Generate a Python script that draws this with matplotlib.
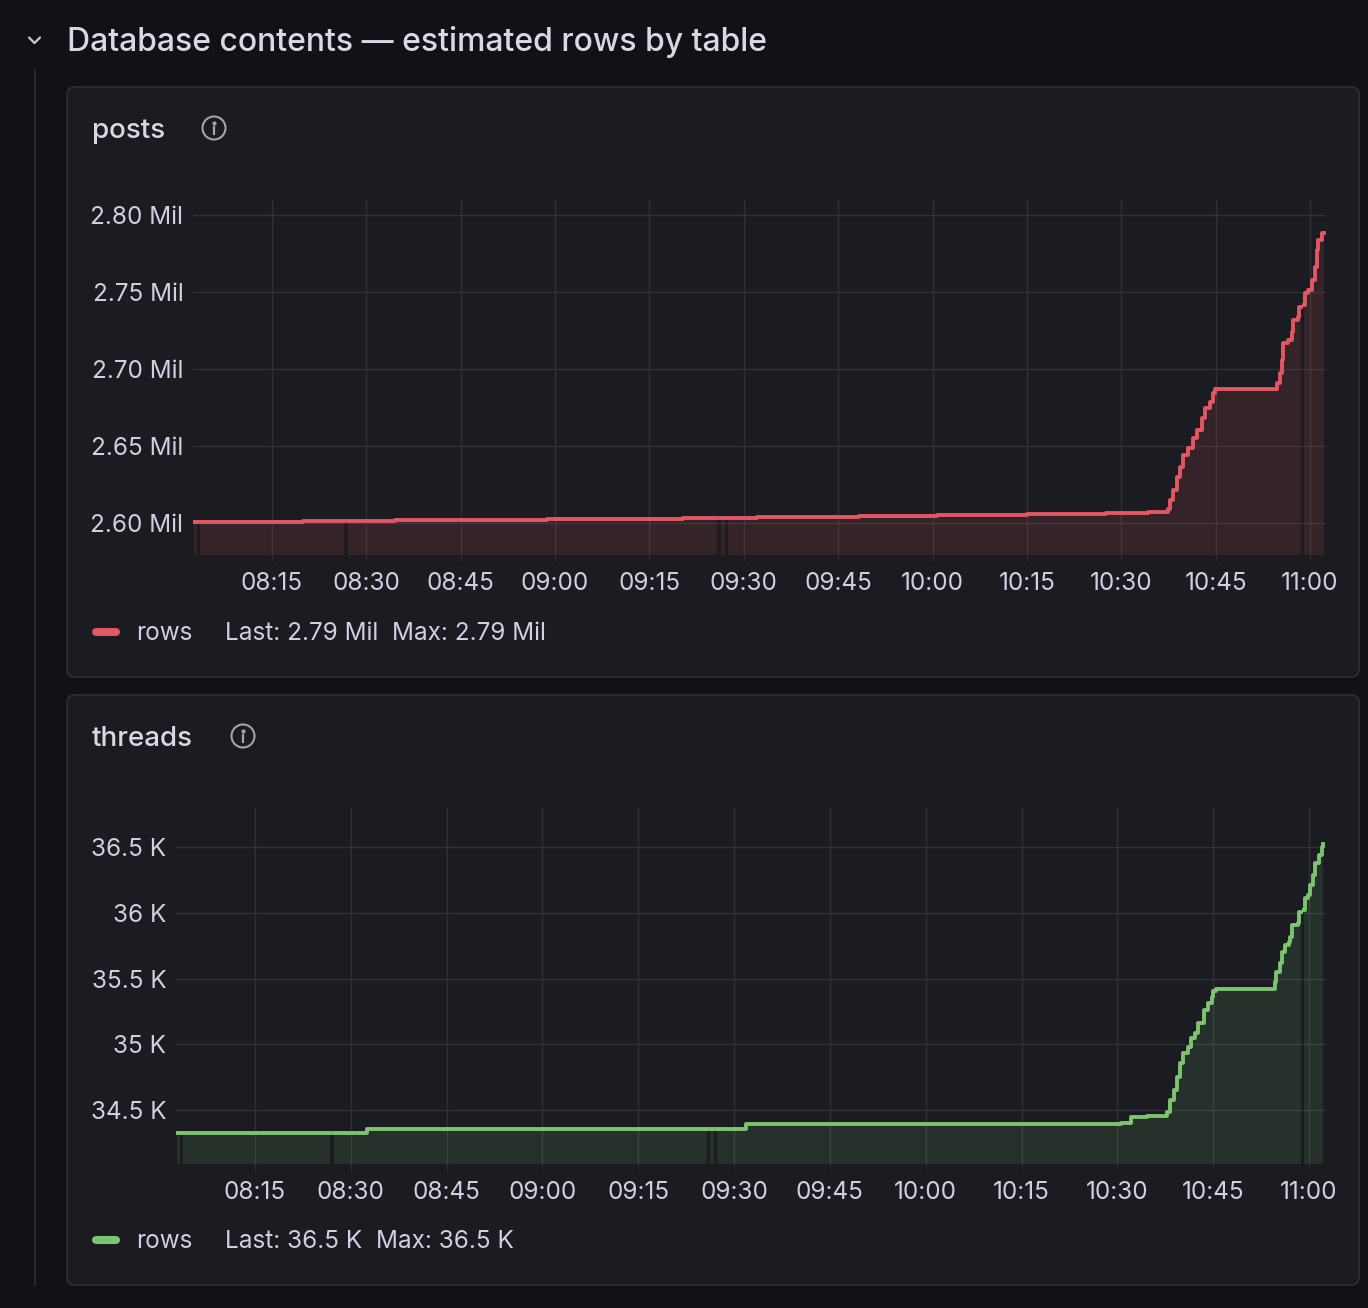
import numpy as np
import matplotlib
matplotlib.use("Agg")
import matplotlib.pyplot as plt
from matplotlib.patches import FancyBboxPatch, Circle
from matplotlib.ticker import MultipleLocator, FuncFormatter

# sample times in minutes after midnight, nan = missing sample (gap)
posts_t = [482.6, 483.05, 483.6, 499.9, 506.5, 507.1, 514.6, 538.7, 560.3,
           565.8, 566.3, 567.0, 567.5, 572.1, 588.3, 600.7, 615.0, 627.6,
           634.2, 637.4, 637.7, 638.2, 638.9, 639.3, 639.8, 640.6, 641.4,
           642.0, 642.8, 643.3, 644.1, 644.6, 644.9, 654.8, 655.2, 655.5,
           655.7, 656.5, 657.1, 657.3, 658.1, 658.2, 658.6, 659.0, 659.2,
           659.7, 660.3, 660.8, 661.1, 661.3, 661.9, 662.2]
# estimated rows, millions
posts_rows = [2.6008, np.nan, 2.6008, 2.6015, np.nan, 2.6015, 2.6021, 2.6026, 2.6034,
              np.nan, 2.6034, np.nan, 2.6034, 2.6041, 2.6047, 2.6052, 2.6056, 2.6067,
              2.6073, 2.6091, 2.6149, 2.6214, 2.6299, 2.6364, 2.6442, 2.6487, 2.6552,
              2.6604, 2.6682, 2.6747, 2.6786, 2.6844, 2.6870, 2.6909, 2.6974, 2.7058,
              2.7169, 2.7188, 2.7240, 2.7318, 2.7338, 2.7403, np.nan, 2.7416, 2.7494,
              2.7513, 2.7578, 2.7662, 2.7773, 2.7838, 2.7883, 2.7883]

threads_t = [482.8, 483.3, 483.8, 506.8, 507.4, 512.6, 565.7, 566.2, 566.8,
             567.4, 571.9, 630.6, 632.2, 634.6, 637.7, 638.2, 638.8, 639.3,
             639.8, 640.3, 641.1, 641.6, 642.2, 642.7, 643.5, 644.2, 644.8,
             645.0, 645.5, 654.7, 654.9, 655.5, 655.7, 656.2, 656.8, 657.0,
             657.4, 658.3, 658.5, 658.7, 659.2, 659.4, 659.9, 660.1, 660.7,
             660.9, 661.5, 662.0, 662.2]
# estimated rows, thousands
threads_rows = [34.327, np.nan, 34.327, np.nan, 34.327, 34.355, np.nan, 34.355, np.nan,
                34.355, 34.397, 34.404, 34.444, 34.454, 34.487, 34.576, 34.652, 34.753,
                34.855, 34.932, 34.982, 35.046, 35.084, 35.160, 35.261, 35.312, 35.362,
                35.408, 35.421, 35.476, 35.553, 35.616, 35.705, 35.756, 35.781, 35.819,
                35.908, 35.925, 36.009, np.nan, 36.022, 36.111, 36.136, 36.212, 36.288,
                36.377, 36.441, 36.504, 36.524]

plt.rcParams['font.family'] = ['Inter', 'DejaVu Sans']

BG = '#111217'
PANEL = '#1b1c21'
BORDER = '#2c2e34'
GRID = '#2f3137'
TEXT = '#d0d0de'
RED = '#e35763'
GREEN = '#7cc46f'

fig = plt.figure(figsize=(13.68, 13.08), dpi=100, facecolor=BG)

# pixel-coordinate layer for the dashboard chrome
bg = fig.add_axes([0, 0, 1, 1])
bg.set_xlim(0, 1368)
bg.set_ylim(1308, 0)
bg.axis('off')

# row header
bg.plot([29, 34.5, 40], [37.5, 43, 37.5], color='#c8c9d3', lw=1.6, solid_capstyle='round')
bg.text(67, 42, 'Database contents \u2014 estimated rows by table', fontsize=23,
        fontweight='medium', color='#d8d9e3', va='center', ha='left')
bg.plot([35, 35], [70, 1285], color='#2e3036', lw=1.2)


def panel(y0, y1, title, icon_x, color, label):
    bg.add_patch(FancyBboxPatch((67, y0), 1292, y1 - y0,
                                boxstyle='round,pad=0,rounding_size=8',
                                fc=PANEL, ec=BORDER, lw=1.3))
    ty = y0 + 41
    bg.text(92, ty + 2.5, title, fontsize=20, fontweight='medium', color='#d8d9e3',
            va='center', ha='left')
    bg.add_patch(Circle((icon_x, ty), 11.5, fill=False, ec='#a3a4ad', lw=1.5))
    bg.plot([icon_x, icon_x], [ty - 1, ty + 6], color='#a3a4ad', lw=1.6)
    bg.plot([icon_x], [ty - 5.5], 'o', color='#a3a4ad', ms=2)
    ly = y1 - 45
    bg.plot([96, 116], [ly, ly], color=color, lw=5.8, solid_capstyle='round')
    bg.text(136, ly + 2, 'rows', fontsize=17.5, color=TEXT, va='center', ha='left')
    bg.text(225, ly + 2, label, fontsize=17.5, color=TEXT, va='center', ha='left')


def draw_series(ax, t, v, color, base):
    t = np.asarray(t, float)
    v = np.asarray(v, float)
    n = len(v)
    start = 0
    for i in range(n + 1):
        if i == n or np.isnan(v[i]):
            if i > start:
                if i < n:
                    x = t[start:i + 1]
                    y = np.append(v[start:i], v[i - 1])
                else:
                    x = t[start:i]
                    y = v[start:i]
                ax.fill_between(x, y, base, step='post', color=color, alpha=0.13, lw=0)
                ax.step(x, y, where='post', color=color, lw=2.8)
            start = i + 1


def hhmm(m, pos):
    m = int(round(m))
    return f"{m // 60:02d}:{m % 60:02d}"


def chart(rect, t, v, color, xlim, ylim, ystep, yfmt):
    ax = fig.add_axes(rect)
    ax.set_facecolor('none')
    ax.set_xlim(*xlim)
    ax.set_ylim(*ylim)
    draw_series(ax, t, v, color, ylim[0])
    ax.xaxis.set_major_locator(MultipleLocator(15))
    ax.xaxis.set_major_formatter(FuncFormatter(hhmm))
    ax.yaxis.set_major_locator(MultipleLocator(ystep))
    ax.yaxis.set_major_formatter(FuncFormatter(yfmt))
    ax.grid(True, color=GRID, lw=1)
    ax.set_axisbelow(True)
    for s in ax.spines.values():
        s.set_visible(False)
    ax.tick_params(axis='x', length=4.3, width=0.7, color=GRID, labelsize=17.5,
                   labelcolor=TEXT, pad=8)
    ax.tick_params(axis='y', length=0, labelsize=17.5, labelcolor=TEXT, pad=7)
    return ax


pv = np.asarray(posts_rows)
tv = np.asarray(threads_rows)
posts_label = f"Last: {pv[~np.isnan(pv)][-1]:.2f} Mil  Max: {np.nanmax(pv):.2f} Mil"
threads_label = f"Last: {tv[~np.isnan(tv)][-1]:.1f} K  Max: {np.nanmax(tv):.1f} K"

panel(87, 677, 'posts', 214, RED, posts_label)
panel(695, 1285, 'threads', 243, GREEN, threads_label)

chart([193 / 1368, 1 - 555 / 1308, 1133 / 1368, 355 / 1308],
      posts_t, posts_rows, RED, (482.44, 662.54), (2.5792, 2.8097), 0.05,
      lambda y, p: f"{y:.2f} Mil")
chart([176 / 1368, 1 - 1164 / 1308, 1150 / 1368, 356 / 1308],
      threads_t, threads_rows, GREEN, (482.63, 662.66), (34.089, 36.799), 0.5,
      lambda y, p: f"{y:g} K")

fig.savefig('out.png', dpi=100, facecolor=BG)
